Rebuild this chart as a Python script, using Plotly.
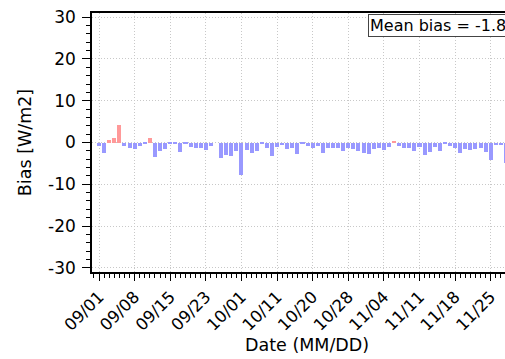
import plotly.graph_objects as go

# Daily bias values (W/m2), one bar per available day, in order
bias = [
    -0.8, -2.4, 0.7, 1.1, 4.2, -0.8, -1.2,
    -1.5, -0.8, -0.3, 1.0, -3.5, -2.0, -1.5,
    -0.3, -0.2, -2.3, -0.3, -1.0, -1.3, -1.4,
    -1.8, -0.8, 0.0, -3.8, -3.0, -3.2, -2.0,
    -7.8, -1.8, -2.4, -2.0, -0.2, -1.4, -3.2,
    -1.0, -0.5, -1.6, -1.4, -2.8, -0.3, -0.8,
    -1.4, -0.8, -2.6, -1.2, -1.4, -1.4, -2.0,
    -1.2, -1.6, -2.0, -2.4, -2.8, -1.5, -1.2,
    -1.8, -1.0, 0.3, -0.8, -1.2, -1.4, -2.0,
    -1.0, -2.9, -2.2, -1.0, -2.0, -0.3, -0.8,
    -1.4, -2.4, -1.6, -1.8, -1.6, -1.2, -2.2,
    -4.2, -0.5, -0.6, -5.0,
]

# Date labels shown every 7th bar
date_labels = ["09/01", "09/08", "09/15", "09/23", "10/01", "10/11",
               "10/20", "10/28", "11/04", "11/11", "11/18", "11/25"]
label_step = 7

y_ticks = [-30, -20, -10, 0, 10, 20, 30]
mean_bias_text = "Mean bias = -1.85 W/m2"

idx = list(range(len(bias)))
colors = ["#ff9999" if v > 0 else "#9999ff" for v in bias]

font_family = "DejaVu Sans"
grid_style = dict(showgrid=True, gridcolor="#c8c8c8", gridwidth=1, griddash="1px,2px")

fig = go.Figure()
fig.add_trace(go.Bar(
    x=idx, y=bias, width=0.8,
    marker=dict(color=colors, line=dict(width=0)),
    showlegend=False,
))

fig.update_layout(
    width=505, height=359,
    margin=dict(l=92, r=0, t=13, b=87),
    plot_bgcolor="white", paper_bgcolor="white",
    font=dict(family=font_family, size=16, color="black"),
    bargap=0,
)

fig.update_xaxes(
    range=[-1.38, 79.81],
    tickmode="array",
    tickvals=[i * label_step for i in range(len(date_labels))],
    ticktext=date_labels,
    tickangle=-45,
    ticks="outside", ticklen=7, tickwidth=1.3, tickcolor="black",
    minor=dict(tickmode="linear", tick0=0, dtick=1, ticks="outside",
               ticklen=4, tickwidth=1, tickcolor="black", showgrid=False),
    showline=True, linecolor="black", linewidth=1.5, mirror=True,
    zeroline=False,
    tickfont=dict(size=16.5),
    **grid_style,
)

fig.update_yaxes(
    range=[-31, 31],
    tickmode="array",
    tickvals=y_ticks,
    ticktext=[str(v) for v in y_ticks],
    ticks="outside", ticklen=8, tickwidth=1.3, tickcolor="black",
    minor=dict(tickmode="linear", tick0=0, dtick=2, ticks="outside",
               ticklen=4, tickwidth=1, tickcolor="black", showgrid=False),
    showline=True, linecolor="black", linewidth=1.5, mirror=False,
    zeroline=False,
    tickfont=dict(size=17),
    ticklabelstandoff=3,
    title=dict(text="Bias [W/m2]", font=dict(size=17.5), standoff=12),
    **grid_style,
)

# x-axis title, centred on the full axes width
fig.add_annotation(
    xref="paper", yref="paper", x=0.52, y=-0.282,
    xanchor="center", yanchor="middle",
    text="Date (MM/DD)", showarrow=False,
    font=dict(size=17.5, family=font_family),
)

fig.add_annotation(
    xref="paper", yref="paper", x=0.668, y=0.996,
    xanchor="left", yanchor="top",
    text=mean_bias_text, showarrow=False,
    font=dict(size=16, family=font_family),
    bgcolor="white", bordercolor="#444444", borderwidth=1, borderpad=1,
)

fig.write_html("out.html")
